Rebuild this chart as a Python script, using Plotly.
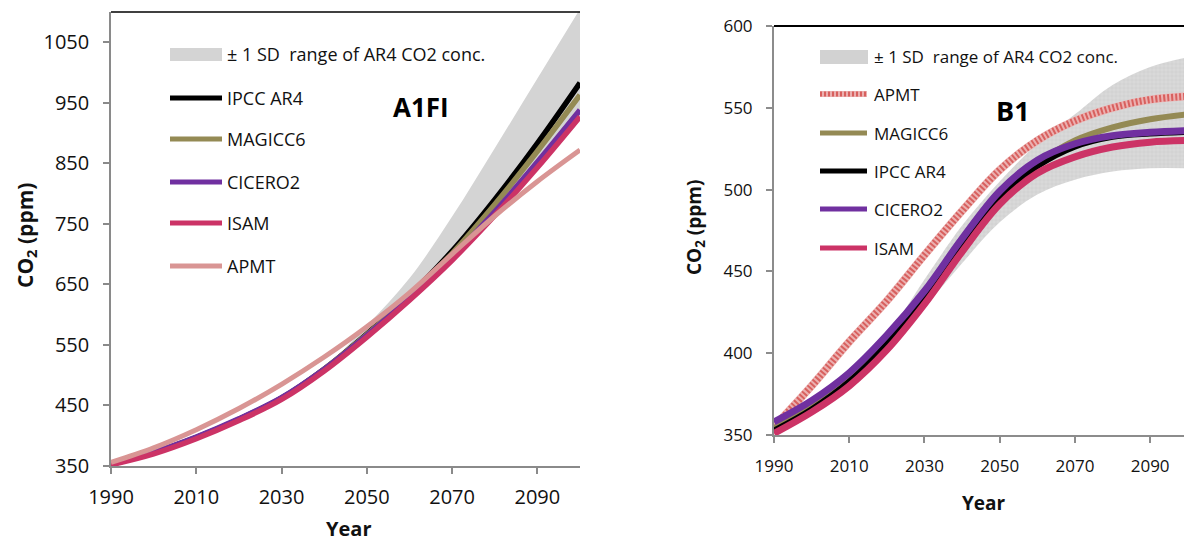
import plotly.graph_objects as go

W, H = 1184, 548

years = [1990, 2000, 2010, 2020, 2030, 2040, 2050, 2060, 2070, 2080, 2090, 2100]

# ---- A1FI scenario (left panel) ----
a1_ipcc = [353, 372, 397, 427, 462, 510, 568, 632, 705, 790, 883, 983]
a1_magicc = [353, 372, 397, 427, 462, 510, 567, 630, 701, 782, 870, 963]
a1_cicero = [354, 373, 398, 428, 463, 510, 566, 627, 695, 770, 852, 938]
a1_isam = [352, 370, 395, 425, 460, 507, 563, 624, 690, 764, 843, 927]
a1_apmt = [356, 380, 410, 445, 485, 530, 580, 636, 700, 763, 820, 872]
a1_sd_low = [352, 370, 395, 425, 460, 507, 563, 624, 690, 762, 842, 925]
a1_sd_high = [354, 373, 398, 428, 463, 512, 582, 660, 762, 875, 990, 1105]

# ---- B1 scenario (right panel) ----
b1_ipcc = [353, 366, 383, 406, 434, 466, 495, 514, 526, 532, 534, 535]
b1_magicc = [354, 368, 385, 407, 435, 467, 496, 516, 530, 538, 543, 546]
b1_cicero = [358, 371, 388, 411, 438, 470, 499, 518, 528, 533, 535, 536]
b1_isam = [351, 364, 380, 402, 430, 462, 491, 510, 520, 526, 529, 530]
b1_apmt = [355, 380, 407, 432, 460, 487, 512, 530, 542, 550, 555, 557]
b1_sd_low = [351, 364, 380, 402, 428, 455, 480, 497, 506, 511, 513, 513]
b1_sd_high = [358, 371, 388, 411, 445, 478, 505, 528, 546, 564, 575, 581]

left_yticks = [350, 450, 550, 650, 750, 850, 950, 1050]
right_yticks = [350, 400, 450, 500, 550, 600]
xticks = [1990, 2010, 2030, 2050, 2070, 2090]

SD_LABEL = "± 1 SD  range of AR4 CO2 conc."

C_IPCC = "#000000"
C_MAGICC = "#948A54"
C_CICERO = "#7030A0"
C_ISAM = "#CC3366"
C_APMT_L = "#D99594"
C_APMT_R = "#EBB0B0"
C_APMT_R2 = "#D8605E"

FONT = "Open Sans"
TXT = "#111111"


def px(x):
    return x / W


def py(y):
    return 1 - y / H


fig = go.Figure()

# ----- left panel -----
fig.add_trace(go.Scatter(x=years, y=a1_sd_low, xaxis="x", yaxis="y", mode="lines",
                         line=dict(width=0, shape="spline"), showlegend=False, hoverinfo="skip"))
fig.add_trace(go.Scatter(x=years, y=a1_sd_high, xaxis="x", yaxis="y", mode="lines",
                         line=dict(width=0, shape="spline"), fill="tonexty", fillcolor="#D4D4D4",
                         name=SD_LABEL, showlegend=False))
for name, vals, col, w in [("IPCC AR4", a1_ipcc, C_IPCC, 5.5),
                           ("MAGICC6", a1_magicc, C_MAGICC, 5.5),
                           ("CICERO2", a1_cicero, C_CICERO, 5.5),
                           ("ISAM", a1_isam, C_ISAM, 5.5),
                           ("APMT", a1_apmt, C_APMT_L, 5)]:
    fig.add_trace(go.Scatter(x=years, y=vals, xaxis="x", yaxis="y", mode="lines", name=name,
                             line=dict(color=col, width=w, shape="spline"), showlegend=False))

# ----- right panel -----
fig.add_trace(go.Scatter(x=years, y=b1_sd_low, xaxis="x2", yaxis="y2", mode="lines",
                         line=dict(width=0, shape="spline"), showlegend=False, hoverinfo="skip"))
fig.add_trace(go.Scatter(x=years, y=b1_sd_high, xaxis="x2", yaxis="y2", mode="lines",
                         line=dict(width=0, shape="spline"), fill="tonexty", fillcolor="#D6D6D6",
                         fillpattern=dict(shape="+", bgcolor="#D9D9D9", fgcolor="#BDBDBD",
                                          size=4, solidity=0.25),
                         name=SD_LABEL, showlegend=False))
fig.add_trace(go.Scatter(x=years, y=b1_apmt, xaxis="x2", yaxis="y2", mode="lines", name="APMT",
                         line=dict(color=C_APMT_R, width=8, shape="spline"), showlegend=False))
fig.add_trace(go.Scatter(x=years, y=b1_apmt, xaxis="x2", yaxis="y2", mode="lines", name="APMT",
                         line=dict(color=C_APMT_R2, width=7, shape="spline", dash="2px,2px"),
                         showlegend=False, hoverinfo="skip"))
for name, vals, col, w in [("MAGICC6", b1_magicc, C_MAGICC, 6),
                           ("IPCC AR4", b1_ipcc, C_IPCC, 5),
                           ("CICERO2", b1_cicero, C_CICERO, 7),
                           ("ISAM", b1_isam, C_ISAM, 7)]:
    fig.add_trace(go.Scatter(x=years, y=vals, xaxis="x2", yaxis="y2", mode="lines", name=name,
                             line=dict(color=col, width=w, shape="spline"), showlegend=False))

axis_common = dict(showgrid=False, zeroline=False, showline=True, ticks="outside",
                   ticklen=6, automargin=False, fixedrange=True)

fig.update_layout(
    width=W, height=H,
    margin=dict(l=0, r=0, t=0, b=0),
    paper_bgcolor="white", plot_bgcolor="white",
    showlegend=False,
    font=dict(family=FONT, color=TXT),
    xaxis=dict(domain=[px(111), px(580)], range=[1990, 2100], tickvals=xticks, anchor="y",
               linecolor="#8A8A8A", linewidth=1.5, tickcolor="#8A8A8A", tickwidth=1.5,
               tickfont=dict(family=FONT, size=20, color=TXT), ticklabelstandoff=6,
               **axis_common),
    yaxis=dict(domain=[py(466), py(12)], range=[350, 1100], tickvals=left_yticks, anchor="x",
               linecolor="#8A8A8A", linewidth=1.5, tickcolor="#8A8A8A", tickwidth=1.5,
               tickfont=dict(family=FONT, size=20, color=TXT), ticklabelstandoff=10,
               **axis_common),
    xaxis2=dict(domain=[px(774), 1.0], range=[1990, 2099], tickvals=xticks, anchor="y2",
                linecolor="#8C8C8C", linewidth=2, tickcolor="#8C8C8C", tickwidth=2,
                tickfont=dict(family=FONT, size=17, color=TXT), ticklabelstandoff=9,
                **axis_common),
    yaxis2=dict(domain=[py(435), py(26)], range=[350, 600], tickvals=right_yticks, anchor="x2",
                linecolor="#8C8C8C", linewidth=2, tickcolor="#8C8C8C", tickwidth=2,
                tickfont=dict(family=FONT, size=17, color=TXT), ticklabelstandoff=10,
                **axis_common),
)

shapes = [
    dict(type="line", xref="x domain", yref="y domain", x0=0, x1=1, y0=1, y1=1,
         line=dict(color="black", width=1.5), layer="above"),
    dict(type="line", xref="x2 domain", yref="y2 domain", x0=0, x1=1, y0=1, y1=1,
         line=dict(color="black", width=2), layer="above"),
]
annotations = []


def label(text, x, y, size, anchor="left", angle=0, color=TXT):
    annotations.append(dict(text=text, x=px(x), y=py(y), xref="paper", yref="paper",
                            xanchor=anchor, yanchor="middle", showarrow=False, textangle=angle,
                            font=dict(family=FONT, size=size, color=color)))


# ----- left legend -----
LF = 18
shapes.append(dict(type="rect", xref="paper", yref="paper", x0=px(170), x1=px(222),
                   y0=py(61), y1=py(48), fillcolor="#D4D4D4", line=dict(width=0)))
label(SD_LABEL, 225, 54, LF)
for (name, col), yy in zip([("IPCC AR4", C_IPCC), ("MAGICC6", C_MAGICC), ("CICERO2", C_CICERO),
                            ("ISAM", C_ISAM), ("APMT", C_APMT_L)], [98, 139, 182, 223, 266]):
    shapes.append(dict(type="line", xref="paper", yref="paper", x0=px(170), x1=px(222),
                       y0=py(yy), y1=py(yy), line=dict(color=col, width=5)))
    label(name, 225, yy, LF)

# ----- right legend -----
RF = 17
shapes.append(dict(type="rect", xref="paper", yref="paper", x0=px(820), x1=px(868),
                   y0=py(64), y1=py(50), fillcolor="#D2D2D2", line=dict(width=0)))
label(SD_LABEL, 872, 57, RF)
shapes.append(dict(type="line", xref="paper", yref="paper", x0=px(820), x1=px(867),
                   y0=py(94), y1=py(94), line=dict(color=C_APMT_R, width=6)))
shapes.append(dict(type="line", xref="paper", yref="paper", x0=px(820), x1=px(867),
                   y0=py(94), y1=py(94), line=dict(color=C_APMT_R2, width=5, dash="2px,2px")))
label("APMT", 872, 94, RF)
for (name, col), yy in zip([("MAGICC6", C_MAGICC), ("IPCC AR4", C_IPCC), ("CICERO2", C_CICERO),
                            ("ISAM", C_ISAM)], [133, 171, 209, 248]):
    shapes.append(dict(type="line", xref="paper", yref="paper", x0=px(820), x1=px(867),
                       y0=py(yy), y1=py(yy), line=dict(color=col, width=5)))
    label(name, 872, yy, RF)

# ----- panel labels and axis titles -----
label("<b>A1FI</b>", 421, 107, 26, anchor="center", color="black")
label("<b>B1</b>", 1013, 110, 27, anchor="center", color="black")
label("<b>Year</b>", 348, 528, 20, anchor="center")
label("<b>Year</b>", 984, 503, 19, anchor="center")
label("<b>CO<sub>2</sub> (ppm)</b>", 26, 236, 21, anchor="center", angle=-90)
label("<b>CO<sub>2</sub> (ppm)</b>", 695, 228, 19, anchor="center", angle=-90)

fig.update_layout(shapes=shapes, annotations=annotations)
fig.write_html("out.html", config={"displayModeBar": False},
               post_script="document.body.style.margin='0';document.body.style.padding='0';")
